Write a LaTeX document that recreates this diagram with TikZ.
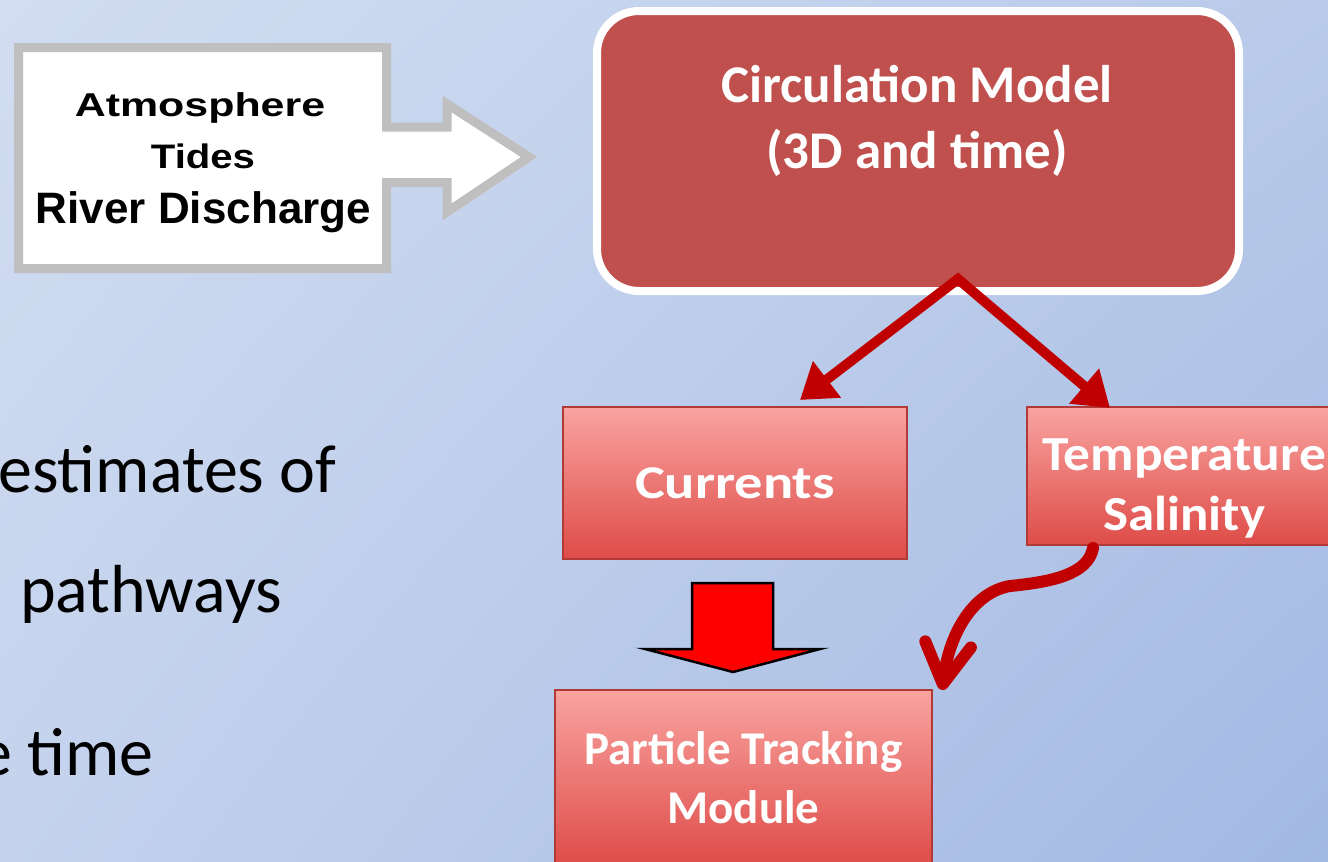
\documentclass[tikz,border=0pt]{standalone}
\usepackage{fontspec}
\setmainfont{Carlito}
\newfontfamily\arialfont{Liberation Sans}
\usetikzlibrary{arrows.meta,shadings}
\definecolor{bgUL}{HTML}{D2DDF1}
\definecolor{bgUR}{HTML}{B9CAEA}
\definecolor{bgLL}{HTML}{C4D2ED}
\definecolor{bgLR}{HTML}{A2B9E3}
\definecolor{circred}{HTML}{C0504D}
\definecolor{darkred}{HTML}{C00000}
\definecolor{boxtop}{HTML}{F9A3A0}
\definecolor{boxbot}{HTML}{DE4C48}
\definecolor{boxedge}{HTML}{B23A36}
\definecolor{atmgray}{HTML}{BFBFBF}
\tikzset{
  pinkbox/.style={top color=boxtop, bottom color=boxbot, draw=boxedge, line width=1.2pt,
    text=white, font=\bfseries\fontsize{47}{59}\selectfont, align=center, inner sep=0pt},
  boxtext/.style={text=white, font=\bfseries\fontsize{47}{60}\selectfont, align=center, inner sep=0pt},
  circbox/.style={fill=circred, draw=white, line width=8pt, rounded corners=42pt, inner sep=0pt},
  flowarrow/.style={draw=darkred, line width=10pt, line join=miter,
    {Triangle[length=34pt,width=44pt]}-{Triangle[length=34pt,width=44pt]}},
  curvearrow/.style={draw=darkred, line width=12pt, line cap=round,
    -{Straight Barb[length=40pt,width=46pt,round]}},
  bodytext/.style={font=\fontsize{68}{80}\selectfont, anchor=base west, inner sep=0pt},
  atmtext/.style={font=\arialfont\bfseries, anchor=base, inner sep=0pt},
}
\begin{document}
\begin{tikzpicture}[x=1pt,y=-1pt]
\useasboundingbox (0,0) rectangle (1328,862);
\clip (0,0) rectangle (1328,862);
\shade[shading=bilinear interpolation, upper left=bgUL, upper right=bgUR, lower left=bgLL, lower right=bgLR] (0,0) rectangle (1328,862);

% left body text (partly cut off by the frame)
\node[bodytext] (t1) at (-2,492) {estimates of};
\node[bodytext] (t2) at (20,612) {pathways};
\node[bodytext] (t3) at (-22,775) {e time};

% input box with arrow
\draw[atmgray, line width=9pt, fill=white, line join=miter]
  (18.5,47.5) -- (386.5,47.5) -- (386.5,127) -- (447,127) -- (447,104) -- (529,157)
  -- (447,212) -- (447,182.5) -- (386.5,182.5) -- (386.5,268.5) -- (18.5,268.5) -- cycle;
\node[atmtext, font=\arialfont\bfseries\fontsize{33}{40}\selectfont] (atm1) at (200,116) {\scalebox{1.3}[1]{Atmosphere}};
\node[atmtext, font=\arialfont\bfseries\fontsize{34}{40}\selectfont] (atm2) at (203,168) {\scalebox{1.18}[1]{Tides}};
\node[atmtext, font=\arialfont\bfseries\fontsize{44}{50}\selectfont] (atm3) at (203.5,223) {River Discharge};

% circulation model
\node[circbox, minimum width=642pt, minimum height=280pt] (circ) at (918,151) {};
\node[boxtext, font=\bfseries\fontsize{53}{66}\selectfont, anchor=base] (circtxt) at (917,168) {Circulation Model\\(3D and time)};

% product boxes
\node[pinkbox, minimum width=344pt, minimum height=152pt] (cur) at (735,483) {\scalebox{1.2}[1]{Currents}};
\node[pinkbox, minimum width=314pt, minimum height=138pt] (temp) at (1184,476) {};
\node[boxtext, font=\bfseries\fontsize{49}{60}\selectfont, anchor=base] (temptxt) at (1184,530) {\scalebox{1.09}[1]{Temperature}\\\scalebox{1.08}[1]{Salinity}};
\node[pinkbox, minimum width=377pt, minimum height=176pt] (ptm) at (743.5,778) {Particle Tracking\\Module};

% connectors
\coordinate (apex) at (958,279);
\coordinate (curin) at (800,400);
\coordinate (tempin) at (1110,408);
\draw[flowarrow] (curin) -- (apex) -- (tempin);

\draw[fill=red, draw=black, line width=2.5pt, line join=miter]
  (692,583) -- (773,583) -- (773,649) -- (820,649) -- (733,672) -- (645,649) -- (692,649) -- cycle;

\coordinate (tempout) at (1093,548);
\coordinate (ptmin) at (942,690);
\draw[curvearrow] (tempout) .. controls (1088,575) and (1050,582) .. (1010,586)
  .. controls (975,592) and (950,630) .. (ptmin);
\end{tikzpicture}
\end{document}
